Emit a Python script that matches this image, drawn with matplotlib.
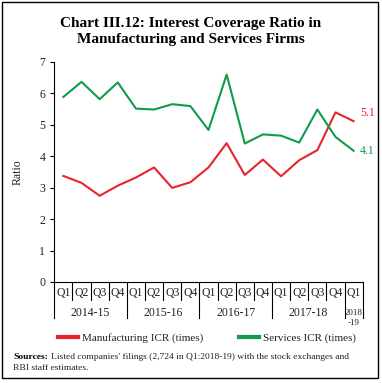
import matplotlib
matplotlib.use("Agg")
import matplotlib.pyplot as plt
import matplotlib.transforms as mtransforms
from matplotlib.patches import Rectangle

plt.rcParams['font.family'] = ['Liberation Serif', 'DejaVu Serif']

quarters = ['Q1', 'Q2', 'Q3', 'Q4'] * 4 + ['Q1']
years = ['2014-15', '2015-16', '2016-17', '2017-18', '2018\n-19']
manufacturing = [3.37, 3.15, 2.74, 3.06, 3.32, 3.64, 2.99, 3.17, 3.64,
                 4.41, 3.40, 3.89, 3.36, 3.87, 4.19, 5.39, 5.11]
services = [5.88, 6.36, 5.81, 6.34, 5.51, 5.48, 5.65, 5.59, 4.83,
            6.59, 4.40, 4.69, 4.65, 4.43, 5.48, 4.61, 4.17]

red = '#e8232b'
green = '#0f9b4a'
txt = '#222222'

W, H = 382, 383
fig = plt.figure(figsize=(W / 100, H / 100), dpi=100)
ax = fig.add_axes([54.3 / W, 1 - 282 / H, (362.7 - 54.3) / W, (282 - 61.7) / H])

x = list(range(len(quarters)))
l1, = ax.plot(x, manufacturing, color=red, lw=1.5, label='Manufacturing ICR (times)')
l2, = ax.plot(x, services, color=green, lw=1.5, label='Services ICR (times)')

ax.text(x[-1] + 0.35, manufacturing[-1] + 0.25, '5.1', color=red, fontsize=8.5, va='center')
ax.text(x[-1] + 0.35, services[-1], '4.1', color=green, fontsize=8.5, va='center')

ax.set_xlim(-0.5, len(quarters) - 0.5)
ax.set_ylim(0, 7)
ax.set_yticks(range(8))
ax.tick_params(axis='y', labelsize=8.5, length=3, width=0.8, labelcolor=txt)
ax.set_xticks([])
ax.spines['top'].set_visible(False)
ax.spines['right'].set_visible(False)
ax.set_ylabel('Ratio', fontsize=8.5, color=txt)
ax.yaxis.set_label_coords(-0.10, 0.5)

# category axis: quarters, separators, years
trans = mtransforms.blended_transform_factory(ax.transData, ax.transAxes)
for i, q in enumerate(quarters):
    ax.text(i, -0.05, q, transform=trans, ha='center', va='center', fontsize=8.5, color=txt)
for i in range(len(quarters) + 1):
    bottom = -0.165 if i % 4 == 0 or i == len(quarters) else -0.082
    ax.plot([i - 0.5, i - 0.5], [0, bottom], transform=trans, color='black',
            lw=0.8, clip_on=False)
for j, yr in enumerate(years):
    if j < 4:
        ax.text(j * 4 + 1.5, -0.141, yr, transform=trans, ha='center', va='center',
                fontsize=8.5, color=txt)
    else:
        ax.text(16, -0.141, '2018', transform=trans, ha='center', va='center', fontsize=6.5, color=txt)
        ax.text(16, -0.186, '-19', transform=trans, ha='center', va='center', fontsize=6.5, color=txt)

fig.text(0.5, 1 - 26.7 / H, 'Chart III.12: Interest Coverage Ratio in', ha='center',
         va='baseline', fontsize=11, fontweight='bold')
fig.text(0.5, 1 - 43.5 / H, 'Manufacturing and Services Firms', ha='center',
         va='baseline', fontsize=11, fontweight='bold')

leg = fig.legend(handles=[l1, l2], loc='center', bbox_to_anchor=(0.542, 1 - 338 / H),
                 ncol=2, frameon=False, fontsize=8, handlelength=1.8,
                 columnspacing=3.2, handletextpad=0.4)
for h in leg.legend_handles:
    h.set_linewidth(3)
for t in leg.get_texts():
    t.set_color(txt)

t1 = fig.text(13 / W, 1 - 357 / H, 'Sources:', fontsize=6.8, fontweight='bold', va='center')
fig.canvas.draw()
bb = t1.get_window_extent()
fig.text((bb.x1 + 3) / W, 1 - 357 / H,
         "Listed companies' filings (2,724 in Q1:2018-19) with the stock exchanges and",
         fontsize=6.8, va='center', color=txt)
fig.text(13 / W, 1 - 368 / H, 'RBI staff estimates.', fontsize=6.8, va='center', color=txt)

fig.patches.append(Rectangle((2 / W, 5 / H), 376 / W, 376 / H, transform=fig.transFigure,
                             fill=False, edgecolor='black', lw=1.0))

fig.savefig('out.png', dpi=100)
